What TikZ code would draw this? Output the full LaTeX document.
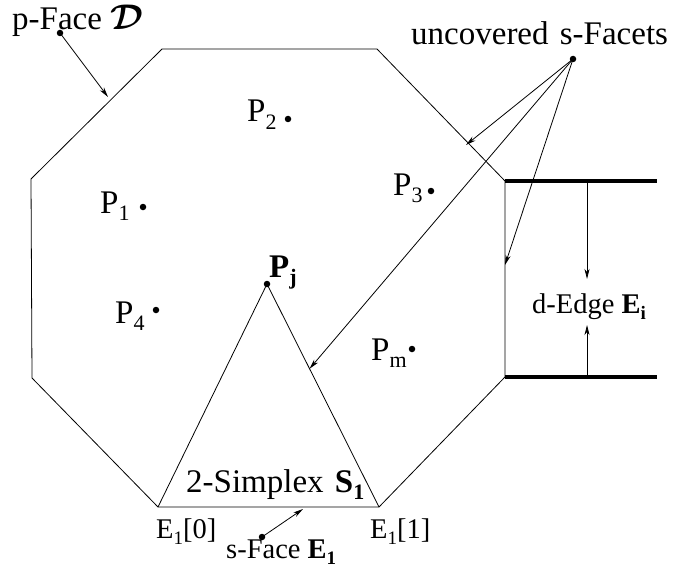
\RequirePackage{fix-cm}
\documentclass[tikz,border=0pt]{standalone}
\usepackage{fontspec}
\setmainfont{Liberation Serif}
\usepackage{bm}
\usepackage{graphicx}
\usetikzlibrary{arrows.meta,calc}
\newcommand\subA[1]{\raisebox{-7pt}{\fontsize{22}{22}\selectfont #1}}
\newcommand\subB[1]{\raisebox{-6pt}{\fontsize{19}{19}\selectfont #1}}
\tikzset{
  lbl/.style={font=\fontsize{33}{38}\selectfont, inner sep=0pt, anchor=base west},
  lbls/.style={font=\fontsize{28.5}{33}\selectfont, inner sep=0pt, anchor=base west},
  dotnode/.style={circle, fill=black, inner sep=0pt, minimum size=6.5pt},
  arr/.style={-{Stealth[length=10pt,width=5pt,inset=3pt]}, line width=0.8pt},
  thinline/.style={line width=0.8pt},
  bigline/.style={line width=4.5pt}
}
\begin{document}
\begin{tikzpicture}[x=1pt,y=-1pt]
\useasboundingbox (0,0) rectangle (677,567);
% octagon vertices
\coordinate (o1) at (162,49);
\coordinate (o2) at (377,49);
\coordinate (o3) at (505,181);
\coordinate (o4) at (505,377);
\coordinate (e1) at (379,507);
\coordinate (e0) at (158,507);
\coordinate (o7) at (32,378);
\coordinate (o8) at (31,179);
\draw[thinline, line join=miter] (o1) -- (o2) -- (o3) -- (o4) -- (e1) -- (e0) -- (o7) -- (o8) -- cycle;
% d-edge thick lines
\coordinate (t2) at (657,181);
\coordinate (b2) at (657,377);
\draw[bigline] (o3) -- (t2);
\draw[bigline] (o4) -- (b2);
% points
\node[dotnode] (p1) at (143,207) {};
\node[dotnode] (p2) at (288,119) {};
\node[dotnode] (p3) at (431,191) {};
\node[dotnode] (p4) at (156,310) {};
\node[dotnode] (pm) at (412,349) {};
\node[dotnode] (pj) at (267,284) {};
\node[lbl] (lp1) at (100,213) {P\subA{1}};
\node[lbl] (lp2) at (247,122) {P\subA{2}};
\node[lbl] (lp3) at (393,195) {P\subA{3}};
\node[lbl] (lp4) at (115,323) {P\subA{4}};
\node[lbl] (lpm) at (371,360) {P\subA{m}};
\node[lbl] (lpj) at (269,277) {\textbf{P}\subA{\textbf{j}}};
% triangle
\draw[thinline, line join=miter] (e0) -- (pj.center) -- (e1);
% labels
\node[lbl] (pface) at (12,30) {p-Face \scalebox{1.08}{$\bm{\mathcal{D}}$}};
\node[lbl] (ucov) at (411,45) {uncovered\hspace{3pt} s-Facets};
\node[lbls] (dedge) at (532,313) {d-Edge \textbf{E}\subB{\textbf{i}}};
\node[lbl] (simp) at (186,492) {2-Simplex\hspace{3pt} \textbf{S}\subA{\textbf{1}}};
\node[lbls] (le0) at (156,538) {E\subB{1}[0]};
\node[lbls] (le1) at (370,538) {E\subB{1}[1]};
\node[lbls] (sface) at (226,558) {s-Face \textbf{E}\subB{\textbf{1}}};
% arrow source dots
\node[dotnode] (dpf) at (60,33) {};
\node[dotnode] (duc) at (573,59) {};
\node[dotnode] (dsf) at (262,537) {};
% arrow targets
\coordinate (tpf) at (108,97);
\coordinate (tuc1) at (466,145);
\coordinate (tuc2) at (505,265);
\coordinate (tuc3) at ($(pj.center)!0.38!(e1)$);
\coordinate (tsf) at (303,509);
\draw[arr] (dpf.center) -- (tpf);
\draw[arr] (duc.center) -- (tuc1);
\draw[arr] (duc.center) -- (tuc2);
\draw[arr] (duc.center) -- (tuc3);
\draw[arr] (dsf.center) -- (tsf);
% d-edge arrows
\coordinate (da1) at (587,181);
\coordinate (da2) at (587,279);
\coordinate (db1) at (587,377);
\coordinate (db2) at (587,325);
\draw[arr] (da1) -- (da2);
\draw[arr] (db1) -- (db2);
\end{tikzpicture}
\end{document}
